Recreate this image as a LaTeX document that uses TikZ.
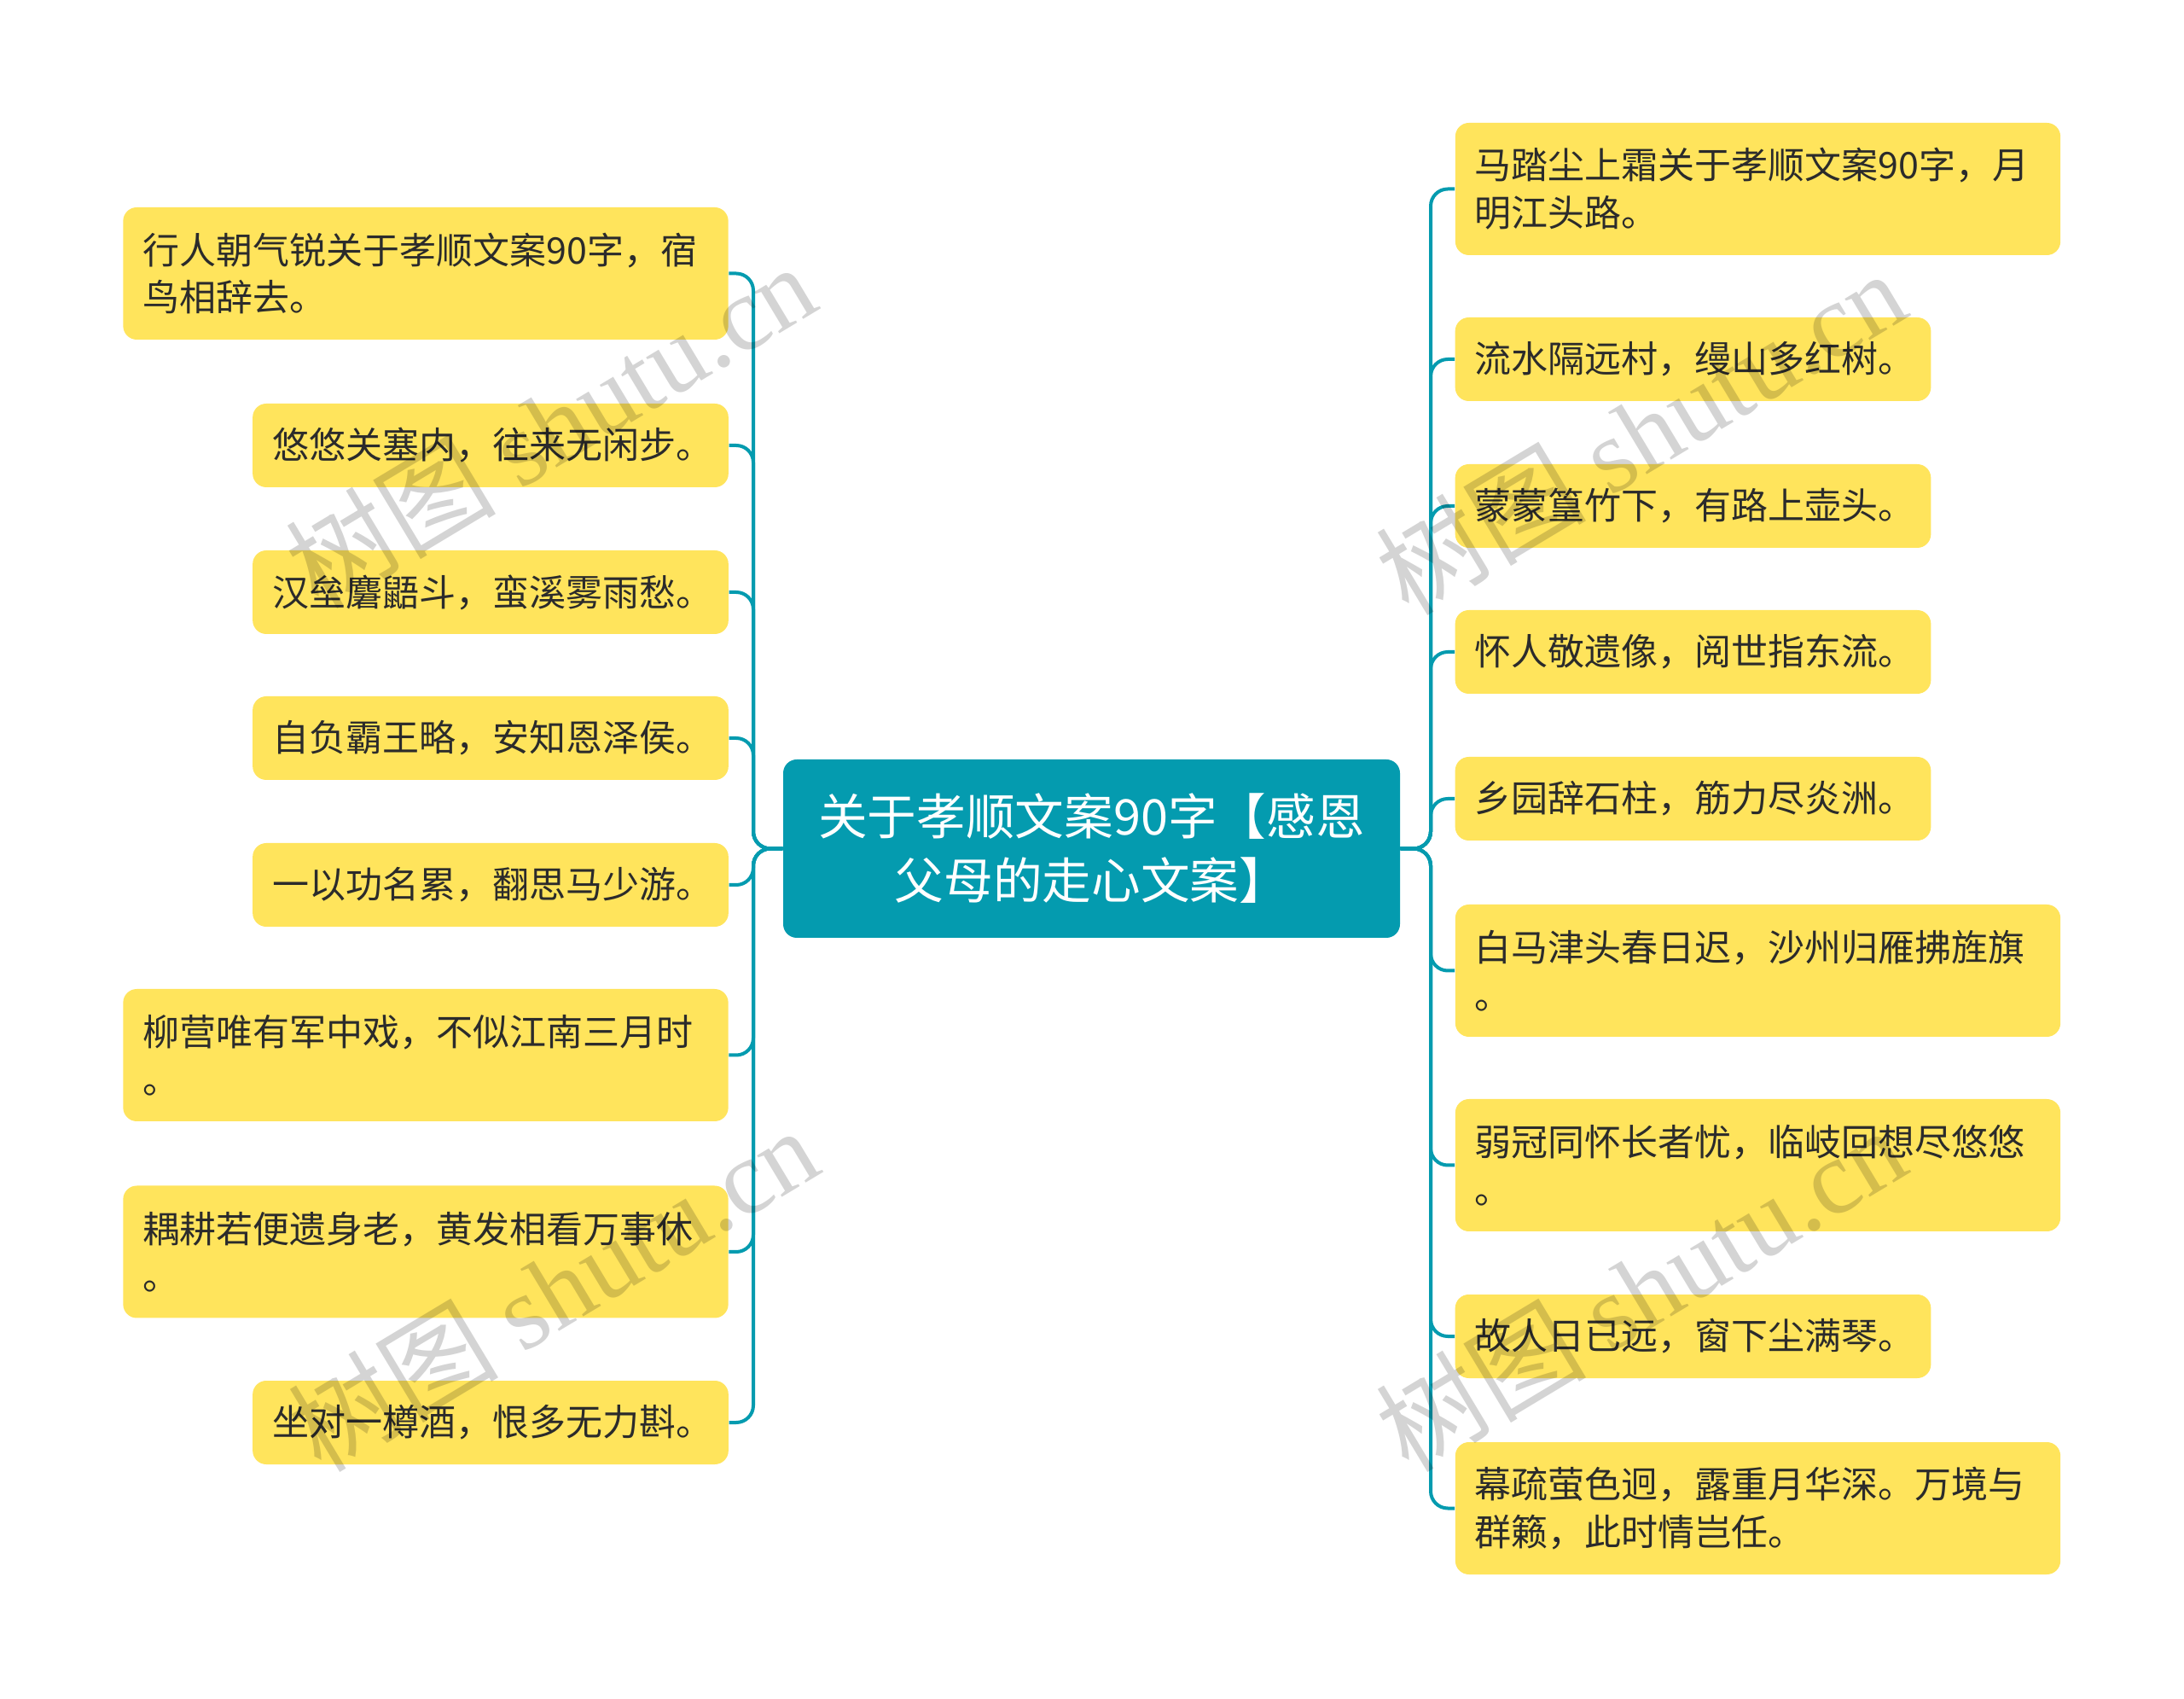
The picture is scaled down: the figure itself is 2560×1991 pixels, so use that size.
\documentclass[tikz,border=0pt]{standalone}
\usepackage{fontspec}
\setmainfont{Noto Sans CJK SC}
\newfontfamily\wmserif{Liberation Serif}
\definecolor{leafyellow}{HTML}{FFE45C}
\definecolor{teal}{HTML}{049BAF}
\definecolor{txt}{HTML}{2B2B2B}
\tikzset{
  leafbase/.style={fill=leafyellow, rounded corners=4.8pt, text=txt, align=left,
    inner xsep=6.9pt, inner ysep=0pt,
    font=\fontsize{12.9pt}{16.7pt}\selectfont},
  wideone/.style={leafbase, text width=199pt, minimum height=29.4pt},
  widetwo/.style={leafbase, text width=199pt, minimum height=46.5pt},
  narrowone/.style={leafbase, text width=153.5pt, minimum height=29.4pt},
  rootbox/.style={fill=teal, rounded corners=4.8pt, text=white, align=center,
    minimum width=216.9pt, minimum height=62.7pt, inner sep=0pt,
    font=\fontsize{17.3pt}{22.5pt}\selectfont},
  conn/.style={draw=teal, line width=1.2pt, rounded corners=6pt},
  watermark/.style={text=black, text opacity=0.17, rotate=31,
    font=\fontsize{37pt}{37pt}\selectfont}
}
\begin{document}
\begin{tikzpicture}[x=0.3pt,y=-0.3pt]
\useasboundingbox (0,0) rectangle (2560,1991);
\fill[white] (0,0) rectangle (2560,1991);

\node[rootbox] (root) at (1279.5,994.5) {关于孝顺文案90字【感恩\\父母的走心文案】};

% left
\node[widetwo] (L1) at (499,320.5) {行人朝气锐关于孝顺文案90字，宿\\鸟相辞去。};
\node[narrowone] (L2) at (575,522) {悠悠关塞内，往来无闲步。};
\node[narrowone] (L3) at (575,694) {汉垒麏鼯斗，蛮溪雾雨愁。};
\node[narrowone] (L4) at (575,865) {自负霸王略，安知恩泽侯。};
\node[narrowone] (L5) at (575,1037) {一以功名累，翻思马少游。};
\node[widetwo] (L6) at (499,1236.5) {柳营唯有军中戏，不似江南三月时\\。};
\node[widetwo] (L7) at (499,1467) {耦耕若便遗身老，黄发相看万事休\\。};
\node[narrowone] (L8) at (575,1667) {坐对一樽酒，恨多无力斟。};

% right
\node[widetwo] (R1) at (2060.5,221.5) {马踏尘上霜关于孝顺文案90字，月\\明江头路。};
\node[narrowone] (R2) at (1984.5,421) {流水隔远村，缦山多红树。};
\node[narrowone] (R3) at (1984.5,593) {蒙蒙篁竹下，有路上壶头。};
\node[narrowone] (R4) at (1984.5,764) {怀人敬遗像，阅世指东流。};
\node[narrowone] (R5) at (1984.5,936) {乡园辞石柱，筋力尽炎洲。};
\node[widetwo] (R6) at (2060.5,1137.5) {白马津头春日迟，沙州归雁拂旌旗\\。};
\node[widetwo] (R7) at (2060.5,1365.5) {弱冠同怀长者忧，临岐回想尽悠悠\\。};
\node[narrowone] (R8) at (1984.5,1566) {故人日已远，窗下尘满琴。};
\node[widetwo] (R9) at (2060.5,1767.5) {幕疏萤色迥，露重月华深。万境与\\群籁，此时情岂任。};

\coordinate (tl) at (883,994.5);
\coordinate (tr) at (1677,994.5);
\foreach \n in {L1,L2,L3,L4,L5,L6,L7,L8}
  \draw[conn] (root.west) -- (tl) |- (\n.east);
\foreach \n in {R1,R2,R3,R4,R5,R6,R7,R8,R9}
  \draw[conn] (root.east) -- (tr) |- (\n.west);

% watermarks
\node[watermark] (w1) at (645,498) {树图 {\wmserif shutu.cn}};
\node[watermark] (w2) at (648,1510) {树图 {\wmserif shutu.cn}};
\node[watermark] (w3) at (1923,506) {树图 {\wmserif shutu.cn}};
\node[watermark] (w4) at (1923,1510) {树图 {\wmserif shutu.cn}};
\end{tikzpicture}
\end{document}
